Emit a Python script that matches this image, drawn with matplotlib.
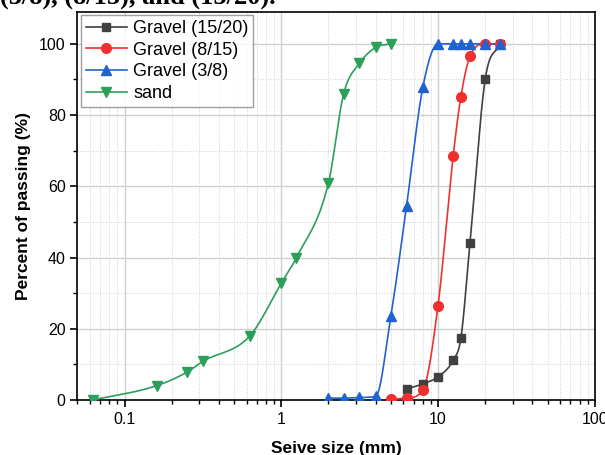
import numpy as np
import matplotlib
matplotlib.use('Agg')
import matplotlib.pyplot as plt
from matplotlib.ticker import LogLocator, MultipleLocator, NullFormatter, FixedLocator

# sieve sizes (mm) and percent passing
sand_x = [0.063, 0.16, 0.25, 0.315, 0.63, 1.0, 1.25, 2.0, 2.5, 3.15, 4.0, 5.0]
sand_y = [0, 4, 7.8, 10.8, 18, 32.8, 40, 61, 86, 94.5, 99, 100]

g38_x = [2.0, 2.5, 3.15, 4.0, 5.0, 6.3, 8.0, 10.0, 12.5, 14.0, 16.0, 20.0, 25.0]
g38_y = [0.5, 0.5, 0.7, 1.0, 23.5, 54.5, 87.8, 100, 100, 100, 100, 100, 100]

g815_x = [5.0, 6.3, 8.0, 10.0, 12.5, 14.0, 16.0, 20.0, 25.0]
g815_y = [0.2, 0.5, 2.8, 26.5, 68.6, 85.2, 96.5, 100, 100]

g1520_x = [6.3, 8.0, 10.0, 12.5, 14.0, 16.0, 20.0, 25.0]
g1520_y = [3.1, 4.5, 6.5, 11.2, 17.4, 44.2, 90, 100]


def smooth(x, y, xn):
    # monotone cubic hermite (Fritsch-Carlson with arithmetic mean slopes)
    x = np.asarray(x, float)
    y = np.asarray(y, float)
    h = np.diff(x)
    d = np.diff(y) / h
    m = np.zeros_like(y)
    m[1:-1] = (d[:-1] + d[1:]) / 2
    m[0] = d[0]
    m[-1] = d[-1]
    for k in range(len(d)):
        if d[k] == 0:
            m[k] = 0
            m[k + 1] = 0
        else:
            a = m[k] / d[k]
            b = m[k + 1] / d[k]
            if a < 0:
                m[k] = 0
            if b < 0:
                m[k + 1] = 0
            s = a * a + b * b
            if s > 9:
                t = 3 / np.sqrt(s)
                m[k] = t * a * d[k]
                m[k + 1] = t * b * d[k]
    idx = np.clip(np.searchsorted(x, xn) - 1, 0, len(h) - 1)
    t = (xn - x[idx]) / h[idx]
    h00 = 2 * t**3 - 3 * t**2 + 1
    h10 = t**3 - 2 * t**2 + t
    h01 = -2 * t**3 + 3 * t**2
    h11 = t**3 - t**2
    return h00 * y[idx] + h10 * h[idx] * m[idx] + h01 * y[idx + 1] + h11 * h[idx] * m[idx + 1]


plt.rcParams['font.family'] = ['Liberation Sans', 'DejaVu Sans']

fig = plt.figure(figsize=(6.05, 4.55), dpi=100)
ax = fig.add_axes([0.128, 0.121, 0.855, 0.853])

series = [
    (g1520_x, g1520_y, '#404040', 's', 'Gravel (15/20)', 6),
    (g815_x, g815_y, '#f03030', 'o', 'Gravel (8/15)', 7),
    (g38_x, g38_y, '#1f62d0', '^', 'Gravel (3/8)', 7),
    (sand_x, sand_y, '#2ca05a', 'v', 'sand', 7),
]

for xs, ys, col, mk, lab, ms in series:
    lx = np.log10(xs)
    xn = np.linspace(lx[0], lx[-1], 400)
    yn = smooth(lx, ys, xn)
    ax.plot(10**xn, yn, color=col, lw=1.2, zorder=3)
    ax.plot(xs, ys, ls='none', marker=mk, color=col, ms=ms, zorder=4)
    # legend proxy
    ax.plot([], [], color=col, lw=1.2, marker=mk, ms=ms, label=lab)

ax.set_xscale('log')
ax.set_xlim(0.05, 100)
ax.set_ylim(0, 109)

ax.xaxis.set_major_locator(FixedLocator([0.1, 1, 10, 100]))
ax.set_xticklabels(['0.1', '1', '10', '100'])
ax.xaxis.set_minor_locator(LogLocator(base=10, subs=np.arange(2, 10)))
ax.xaxis.set_minor_formatter(NullFormatter())
ax.yaxis.set_major_locator(MultipleLocator(20))
ax.yaxis.set_minor_locator(MultipleLocator(10))
ax.set_yticks([0, 20, 40, 60, 80, 100])

ax.grid(True, which='major', color='#d0d0d0', lw=1.0, ls='-')
ax.grid(True, which='minor', color='#d0d0d0', lw=0.7, ls=':')
ax.set_axisbelow(True)

ax.tick_params(which='major', direction='out', length=5, width=1.2, labelsize=11.5)
ax.tick_params(which='minor', direction='out', length=3, width=1.0)
for s in ax.spines.values():
    s.set_linewidth(1.2)

ax.set_xlabel('Seive size (mm)', fontsize=12.5, fontweight='bold', labelpad=10)
ax.set_ylabel('Percent of passing (%)', fontsize=12.5, fontweight='bold', labelpad=6)

leg = ax.legend(loc='upper left', fontsize=13, fancybox=False, edgecolor='#888888',
                handlelength=2.3, borderpad=0.25, labelspacing=0.26, handletextpad=0.35,
                borderaxespad=0.2)
leg.get_frame().set_linewidth(1.0)

# caption fragment cut off at the top of the picture
fig.text(0.0, 1 - 4 / 455, '(3/8), (8/15), and (15/20).', fontsize=19, fontweight='bold',
         family='Liberation Serif', va='baseline', ha='left')

fig.savefig('out.png', dpi=100)
